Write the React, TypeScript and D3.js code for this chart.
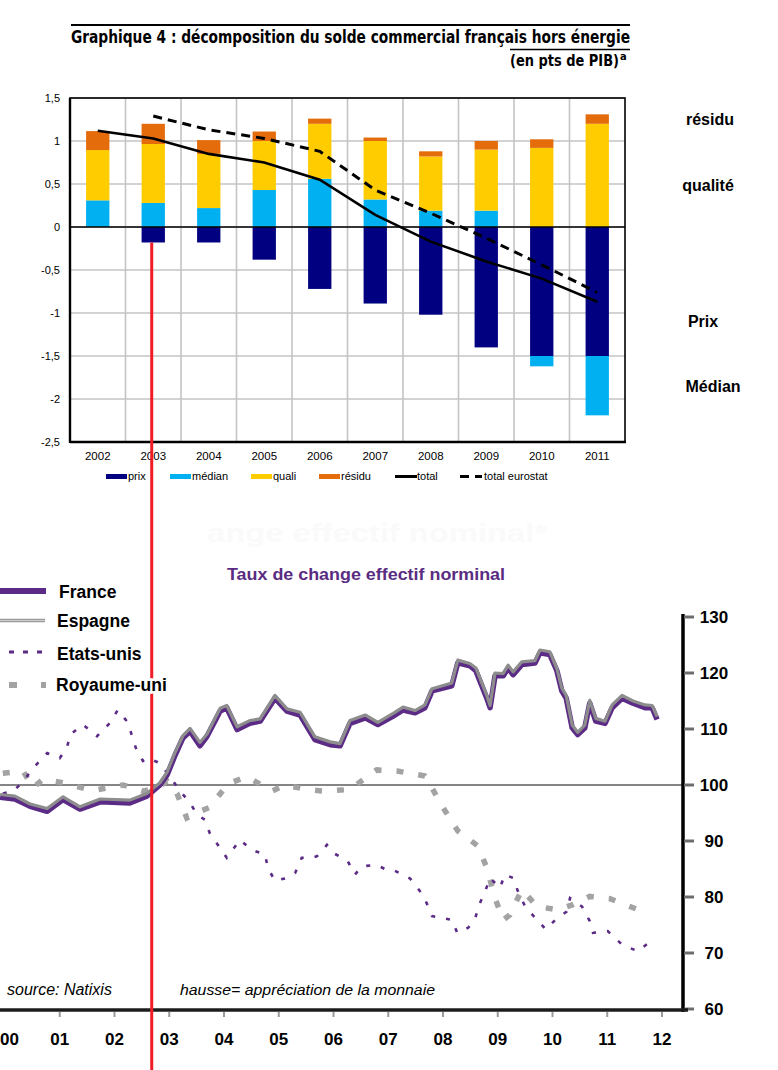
import * as d3 from "d3";
import { useEffect, useRef } from "react";

// ---- top chart: décomposition du solde commercial (pts de PIB)
const years = ["2002", "2003", "2004", "2005", "2006", "2007", "2008", "2009", "2010", "2011"];
const prix = [0, -0.18, -0.18, -0.38, -0.72, -0.89, -1.02, -1.4, -1.5, -1.5];
const median = [0.31, 0.28, 0.22, 0.43, 0.56, 0.32, 0.19, 0.19, -0.12, -0.69];
const quali = [0.585, 0.685, 0.63, 0.57, 0.64, 0.68, 0.63, 0.71, 0.92, 1.2];
const residu = [0.22, 0.235, 0.16, 0.11, 0.06, 0.04, 0.06, 0.1, 0.1, 0.11];
const total = [1.12, 1.03, 0.85, 0.75, 0.55, 0.14, -0.17, -0.4, -0.6, -0.87];
const totalEurostat = [null, 1.29, 1.13, 1.03, 0.88, 0.43, 0.16, -0.13, -0.44, -0.76];

// ---- bottom chart: taux de change effectif nominal
const franceT = [
    1999.91, 2000.18, 2000.46, 2000.77, 2001.06, 2001.37, 2001.74, 2002.28, 2002.59, 2002.83,
    2002.96, 2003.11, 2003.25, 2003.38, 2003.56, 2003.69, 2003.93, 2004.05, 2004.24, 2004.47,
    2004.66, 2004.93, 2005.15, 2005.39, 2005.66, 2005.94, 2006.12, 2006.3, 2006.58, 2006.81,
    2007.09, 2007.27, 2007.49, 2007.67, 2007.8, 2008.16, 2008.27, 2008.49, 2008.6, 2008.8,
    2008.86, 2008.95, 2009.1, 2009.19, 2009.28, 2009.44, 2009.68, 2009.77, 2009.95, 2010.08,
    2010.17, 2010.25, 2010.36, 2010.46, 2010.59, 2010.68, 2010.79, 2010.96, 2011.09, 2011.27,
    2011.47, 2011.69, 2011.82, 2011.91,
];
const franceV = [
    97.8, 97.5, 96.2, 95.3, 97.4, 95.7, 97.0, 96.8, 98.0, 100.0,
    101.8, 105.4, 108.4, 109.6, 107.0, 108.7, 113.2, 113.8, 109.9, 111.0,
    111.4, 115.5, 113.2, 112.5, 108.1, 107.2, 107.0, 111.0, 112.0, 110.8,
    112.3, 113.4, 112.9, 113.8, 116.8, 117.7, 121.8, 121.3, 120.4, 115.5,
    113.8, 119.5, 119.5, 120.9, 119.7, 121.5, 121.8, 123.6, 123.3, 120.4,
    116.8, 115.5, 110.2, 109.0, 110.2, 114.6, 111.4, 111.0, 113.8, 115.5,
    114.6, 113.8, 113.8, 111.7,
];
const espagneV = [
    98.3, 98.0, 96.6, 95.8, 97.9, 96.1, 97.5, 97.3, 98.5, 100.4,
    102.3, 105.9, 108.8, 110.1, 107.6, 109.1, 113.7, 114.2, 110.4, 111.5,
    111.8, 116.0, 113.6, 113.0, 108.6, 107.7, 107.4, 111.5, 112.5, 111.2,
    112.8, 113.9, 113.3, 114.3, 117.2, 118.2, 122.3, 121.7, 120.9, 116.0,
    114.2, 120.0, 119.9, 121.4, 120.2, 122.0, 122.2, 124.1, 123.8, 120.8,
    117.3, 116.0, 110.7, 109.4, 110.7, 115.1, 111.9, 111.4, 114.3, 116.0,
    115.0, 114.3, 114.2, 112.2,
];
const usT = [
    1999.96, 2000.15, 2000.31, 2000.55, 2000.77, 2001.0, 2001.13, 2001.19, 2001.42, 2001.68,
    2001.92, 2002.06, 2002.25, 2002.32, 2002.41, 2002.52, 2002.61, 2002.83, 2003.01, 2003.2,
    2003.38, 2003.51, 2003.65, 2003.74, 2003.89, 2004.05, 2004.29, 2004.51, 2004.75, 2004.8,
    2004.93, 2005.15, 2005.3, 2005.42, 2005.61, 2005.7, 2005.88, 2005.99, 2006.26, 2006.39,
    2006.52, 2006.79, 2006.98, 2007.12, 2007.4, 2007.63, 2007.73, 2007.8, 2008.16, 2008.26,
    2008.46, 2008.58, 2008.66, 2008.77, 2008.86, 2009.04, 2009.13, 2009.28, 2009.37, 2009.5,
    2009.72, 2009.88, 2010.05, 2010.26, 2010.32, 2010.54, 2010.68, 2010.74, 2011.01, 2011.27,
    2011.56, 2011.82,
];
const usV = [
    98.5, 98.9, 100.4, 103.4, 105.7, 104.8, 106.6, 109.0, 110.8, 108.7,
    111.1, 113.4, 111.1, 108.7, 106.0, 104.3, 104.8, 103.9, 101.5, 98.9,
    96.8, 94.7, 93.8, 91.4, 89.3, 87.0, 90.2, 88.4, 87.6, 85.2,
    82.9, 83.4, 84.3, 87.0, 87.0, 87.3, 89.3, 87.9, 86.4, 84.0,
    85.5, 85.7, 84.8, 84.7, 83.3, 80.4, 78.3, 76.6, 75.9, 73.6,
    74.5, 75.9, 78.6, 81.0, 83.4, 81.6, 84.0, 83.4, 81.0, 78.3,
    75.9, 74.2, 75.9, 77.4, 79.8, 78.3, 75.7, 73.6, 73.9, 71.5,
    70.3, 72.3,
];
const ukT = [
    1999.96, 2000.33, 2000.51, 2000.69, 2001.06, 2001.59, 2002.16, 2002.52, 2002.78, 2002.96,
    2003.14, 2003.32, 2003.56, 2003.74, 2004.07, 2004.42, 2004.88, 2005.11, 2005.52, 2005.84,
    2006.3, 2006.7, 2006.79, 2007.16, 2007.67, 2007.73, 2007.98, 2008.27, 2008.64, 2008.8,
    2008.95, 2009.1, 2009.22, 2009.44, 2009.72, 2010.1, 2010.36, 2010.68, 2011.05, 2011.6,
    2011.73,
];
const ukV = [
    102.1, 102.5, 99.5, 101.0, 100.4, 99.0, 100.0, 98.9, 99.5, 100.7,
    98.5, 94.1, 95.3, 96.0, 100.2, 101.5, 98.9, 100.0, 99.2, 98.9,
    99.2, 102.1, 102.7, 102.5, 101.6, 100.7, 96.3, 91.8, 89.1, 85.2,
    79.8, 75.9, 76.8, 81.3, 78.3, 77.7, 78.6, 80.1, 79.7, 77.6,
    77.6,
];
const yearLabels = ["00", "01", "02", "03", "04", "05", "06", "07", "08", "09", "10", "11", "12"];
const markYear = 2002.68;

const sans = "'Liberation Sans', Arial, Helvetica, sans-serif";
const narrow = "'Liberation Sans Narrow', 'Arial Narrow', 'DejaVu Sans Condensed', sans-serif";
const colors: Record<string, string> = {
    prix: "#000080",
    median: "#00b0f0",
    quali: "#ffcc00",
    residu: "#e46c0a",
};
const purple = "#5b2b86";

export default function App() {
    const svgRef = useRef<SVGSVGElement | null>(null);

    useEffect(() => {
        if (!svgRef.current) return;
        const svg = d3.select(svgRef.current);
        svg.selectAll("*").remove();

        // ================= top chart =================
        svg.append("line")
            .attr("x1", 71).attr("x2", 630).attr("y1", 25).attr("y2", 25)
            .attr("stroke", "#000").attr("stroke-width", 2);
        svg.append("text")
            .attr("x", 71).attr("y", 43)
            .attr("font-family", narrow).attr("font-weight", "bold").attr("font-size", 18.5)
            .attr("textLength", 559).attr("lengthAdjust", "spacingAndGlyphs")
            .text("Graphique 4 : décomposition du solde commercial français hors énergie");
        svg.append("line")
            .attr("x1", 510).attr("x2", 630).attr("y1", 49.5).attr("y2", 49.5)
            .attr("stroke", "#000").attr("stroke-width", 1.5);
        const sub = svg.append("text")
            .attr("x", 510).attr("y", 65.5)
            .attr("font-family", narrow).attr("font-weight", "bold").attr("font-size", 16.5);
        sub.append("tspan")
            .attr("textLength", 109).attr("lengthAdjust", "spacingAndGlyphs")
            .text("(en pts de PIB)");
        sub.append("tspan")
            .attr("dx", 1).attr("dy", -6).attr("font-size", 11)
            .text("a");

        const left = 70, right = 625, top = 98, bottom = 442;
        const x = d3.scaleBand().domain(years).range([left, right]).padding(0);
        const y = d3.scaleLinear().domain([-2.5, 1.5]).range([bottom, top]);
        const bw = x.bandwidth();
        const barW = bw * 0.42;

        const grid = svg.append("g");
        grid.selectAll("line.h")
            .data(y.ticks(8))
            .join("line")
            .attr("x1", left).attr("x2", right)
            .attr("y1", (d) => y(d)).attr("y2", (d) => y(d))
            .attr("stroke", "#c4c4c4").attr("stroke-width", 1.6);
        grid.selectAll("line.v")
            .data(years.slice(1))
            .join("line")
            .attr("x1", (d) => x(d)!).attr("x2", (d) => x(d)!)
            .attr("y1", top).attr("y2", bottom)
            .attr("stroke", "#c4c4c4").attr("stroke-width", 1.6);

        const table = years.map((yr, i) => ({
            year: yr,
            prix: prix[i],
            median: median[i],
            quali: quali[i],
            residu: residu[i],
        }));
        const series = d3.stack<any>()
            .keys(["prix", "median", "quali", "residu"])
            .offset(d3.stackOffsetDiverging)(table);

        series.forEach((s) => {
            svg.append("g")
                .selectAll("rect")
                .data(s)
                .join("rect")
                .attr("x", (d: any) => x(d.data.year)! + (bw - barW) / 2)
                .attr("width", barW)
                .attr("y", (d) => y(Math.max(d[0], d[1])))
                .attr("height", (d) => Math.abs(y(d[0]) - y(d[1])))
                .attr("fill", colors[s.key]);
        });

        svg.append("line")
            .attr("x1", left).attr("x2", right)
            .attr("y1", y(0)).attr("y2", y(0))
            .attr("stroke", "#000").attr("stroke-width", 1.6);

        const line = d3.line<number | null>()
            .defined((d) => d != null)
            .x((_, i) => x(years[i])! + bw / 2)
            .y((d) => y(d as number));

        svg.append("path")
            .datum(total)
            .attr("fill", "none").attr("stroke", "#000").attr("stroke-width", 2.6)
            .attr("d", line);
        svg.append("path")
            .datum(totalEurostat)
            .attr("fill", "none").attr("stroke", "#000").attr("stroke-width", 3)
            .attr("stroke-dasharray", "9,6")
            .attr("d", line);

        // frame
        svg.append("rect")
            .attr("x", left).attr("y", top)
            .attr("width", right - left).attr("height", bottom - top)
            .attr("fill", "none").attr("stroke", "#000").attr("stroke-width", 1.6);
        svg.append("line")
            .attr("x1", left).attr("x2", left).attr("y1", top).attr("y2", bottom + 1)
            .attr("stroke", "#000").attr("stroke-width", 2.4);
        svg.append("line")
            .attr("x1", left).attr("x2", right + 1).attr("y1", bottom).attr("y2", bottom)
            .attr("stroke", "#000").attr("stroke-width", 2.4);

        const fr = d3.formatLocale({
            decimal: ",",
            thousands: " ",
            grouping: [3],
            currency: ["", "€"],
            minus: "-",
        }).format("~g");

        svg.append("g")
            .selectAll("text")
            .data(y.ticks(8))
            .join("text")
            .attr("x", 60).attr("y", (d) => y(d) + 4)
            .attr("text-anchor", "end")
            .attr("font-family", sans).attr("font-size", 11)
            .text((d) => fr(d));

        svg.append("g")
            .selectAll("text")
            .data(years)
            .join("text")
            .attr("x", (d) => x(d)! + bw / 2).attr("y", 460)
            .attr("text-anchor", "middle")
            .attr("font-family", sans).attr("font-size", 11.5)
            .text((d) => d);

        // legend
        const leg = svg.append("g").attr("font-family", sans).attr("font-size", 11);
        [
            { key: "prix", label: "prix", x: 106 },
            { key: "median", label: "médian", x: 170 },
            { key: "quali", label: "quali", x: 251 },
            { key: "residu", label: "résidu", x: 319 },
        ].forEach((it) => {
            leg.append("rect")
                .attr("x", it.x).attr("y", 474).attr("width", 21).attr("height", 5)
                .attr("fill", colors[it.key]);
            leg.append("text").attr("x", it.x + 22).attr("y", 480).text(it.label);
        });
        leg.append("line")
            .attr("x1", 395).attr("x2", 417).attr("y1", 476.5).attr("y2", 476.5)
            .attr("stroke", "#000").attr("stroke-width", 3);
        leg.append("text").attr("x", 417).attr("y", 480).text("total");
        leg.append("line")
            .attr("x1", 460).attr("x2", 482).attr("y1", 476.5).attr("y2", 476.5)
            .attr("stroke", "#000").attr("stroke-width", 3).attr("stroke-dasharray", "9,6");
        leg.append("text").attr("x", 484).attr("y", 480).text("total eurostat");

        const side = svg.append("g")
            .attr("font-family", sans).attr("font-weight", "bold").attr("font-size", 16)
            .attr("text-anchor", "middle");
        side.append("text").attr("x", 710).attr("y", 125).text("résidu");
        side.append("text").attr("x", 708).attr("y", 191).text("qualité");
        side.append("text").attr("x", 703).attr("y", 327).text("Prix");
        side.append("text").attr("x", 713).attr("y", 392).text("Médian");

        // ================= bottom chart =================
        const xb = d3.scaleLinear().domain([2000, 2012]).range([5, 662]);
        const yb = d3.scaleLinear().domain([60, 130]).range([1009, 617]);
        const axisX = 683;

        // faint ghost of an erased title
        svg.append("text")
            .attr("x", 207).attr("y", 542)
            .attr("font-family", sans).attr("font-weight", "bold").attr("font-size", 26)
            .attr("textLength", 340).attr("lengthAdjust", "spacingAndGlyphs")
            .attr("fill", "#fafafa")
            .text("ange effectif nominal*");

        svg.append("text")
            .attr("x", 227).attr("y", 580)
            .attr("font-family", sans).attr("font-weight", "bold").attr("font-size", 17)
            .attr("textLength", 278).attr("lengthAdjust", "spacingAndGlyphs")
            .attr("fill", "#592c82")
            .text("Taux de change effectif norminal");

        svg.append("defs").append("clipPath").attr("id", "clipB")
            .append("rect").attr("x", 0).attr("y", 600).attr("width", axisX).attr("height", 410);

        svg.append("line")
            .attr("x1", 0).attr("x2", axisX)
            .attr("y1", yb(100)).attr("y2", yb(100))
            .attr("stroke", "#858585").attr("stroke-width", 2.2);

        const plotB = svg.append("g").attr("clip-path", "url(#clipB)");
        const tsLine = (ts: number[]) =>
            d3.line<number>().x((_, i) => xb(ts[i])).y((d) => yb(d));

        plotB.append("path")
            .datum(ukV)
            .attr("fill", "none").attr("stroke", "#a3a3a3").attr("stroke-width", 5.5)
            .attr("stroke-dasharray", "7,15")
            .attr("d", tsLine(ukT));
        plotB.append("path")
            .datum(usV)
            .attr("fill", "none").attr("stroke", purple).attr("stroke-width", 2.6)
            .attr("stroke-dasharray", "4,11")
            .attr("d", tsLine(usT));
        plotB.append("path")
            .datum(franceV)
            .attr("fill", "none").attr("stroke", purple).attr("stroke-width", 5.5)
            .attr("stroke-linejoin", "round")
            .attr("d", tsLine(franceT));
        plotB.append("path")
            .datum(espagneV)
            .attr("fill", "none").attr("stroke", "#8d8d8d").attr("stroke-width", 3.2)
            .attr("stroke-linejoin", "round")
            .attr("d", tsLine(franceT));

        // right axis
        svg.append("line")
            .attr("x1", axisX).attr("x2", axisX).attr("y1", 614).attr("y2", 1012)
            .attr("stroke", "#000").attr("stroke-width", 3.5);
        svg.append("g")
            .selectAll("line")
            .data(yb.ticks(7))
            .join("line")
            .attr("x1", axisX + 1).attr("x2", axisX + 11)
            .attr("y1", (d) => yb(d)).attr("y2", (d) => yb(d))
            .attr("stroke", "#6e6e6e").attr("stroke-width", 3);
        svg.append("g")
            .selectAll("text")
            .data(yb.ticks(7))
            .join("text")
            .attr("x", 714).attr("y", (d) => yb(d) + 6)
            .attr("text-anchor", "middle")
            .attr("font-family", sans).attr("font-weight", "bold").attr("font-size", 17)
            .text((d) => d);

        // bottom axis
        svg.append("line")
            .attr("x1", 0).attr("x2", axisX + 5).attr("y1", 1010).attr("y2", 1010)
            .attr("stroke", "#1c1c1c").attr("stroke-width", 3.5);
        svg.append("g")
            .selectAll("line")
            .data(d3.range(2001, 2013))
            .join("line")
            .attr("x1", (d) => xb(d)).attr("x2", (d) => xb(d))
            .attr("y1", 1012).attr("y2", 1017)
            .attr("stroke", "#9a9a9a").attr("stroke-width", 2);
        svg.append("g")
            .selectAll("text")
            .data(yearLabels)
            .join("text")
            .attr("x", (_, i) => Math.max(xb(2000 + i), 9.5)).attr("y", 1045)
            .attr("text-anchor", "middle")
            .attr("font-family", sans).attr("font-weight", "bold").attr("font-size", 17)
            .text((d) => d);

        svg.append("text")
            .attr("x", 7).attr("y", 995)
            .attr("font-family", sans).attr("font-style", "italic").attr("font-size", 16)
            .text("source: Natixis");
        svg.append("text")
            .attr("x", 180).attr("y", 995)
            .attr("font-family", sans).attr("font-style", "italic").attr("font-size", 14.5)
            .attr("textLength", 255).attr("lengthAdjust", "spacingAndGlyphs")
            .text("hausse= appréciation de la monnaie");

        // red marker line linking both charts
        svg.append("line")
            .attr("x1", xb(markYear)).attr("x2", xb(markYear))
            .attr("y1", y(prix[1])).attr("y2", 1070)
            .attr("stroke", "#ee1c25").attr("stroke-width", 3);

        // bottom legend
        const lg = svg.append("g");
        lg.append("line").attr("x1", 0).attr("x2", 46).attr("y1", 591).attr("y2", 591)
            .attr("stroke", purple).attr("stroke-width", 6);
        lg.append("line").attr("x1", 0).attr("x2", 45).attr("y1", 620.5).attr("y2", 620.5)
            .attr("stroke", "#9a9a9a").attr("stroke-width", 3.5);
        lg.append("line").attr("x1", 0).attr("x2", 45).attr("y1", 620.5).attr("y2", 620.5)
            .attr("stroke", "#cfcfcf").attr("stroke-width", 1.2);
        lg.append("line").attr("x1", 9).attr("x2", 46).attr("y1", 652).attr("y2", 652)
            .attr("stroke", purple).attr("stroke-width", 3).attr("stroke-dasharray", "5,9");
        lg.append("line").attr("x1", 9).attr("x2", 46).attr("y1", 685).attr("y2", 685)
            .attr("stroke", "#a3a3a3").attr("stroke-width", 6).attr("stroke-dasharray", "8,24");

        const lgText = lg.append("g")
            .attr("font-family", sans).attr("font-weight", "bold").attr("font-size", 17.5)
            .attr("stroke", "#fff").attr("stroke-width", 5).attr("paint-order", "stroke");
        lgText.append("text").attr("x", 59).attr("y", 598).text("France");
        lgText.append("text").attr("x", 57).attr("y", 627).text("Espagne");
        lgText.append("text").attr("x", 57).attr("y", 660).text("Etats-unis");
        lgText.append("text").attr("x", 56).attr("y", 691).text("Royaume-uni");
    }, []);

    return (
        <svg
            ref={svgRef}
            width={778}
            height={1070}
            style={{ position: "absolute", left: 0, top: 0, background: "#fff" }}
        />
    );
}
